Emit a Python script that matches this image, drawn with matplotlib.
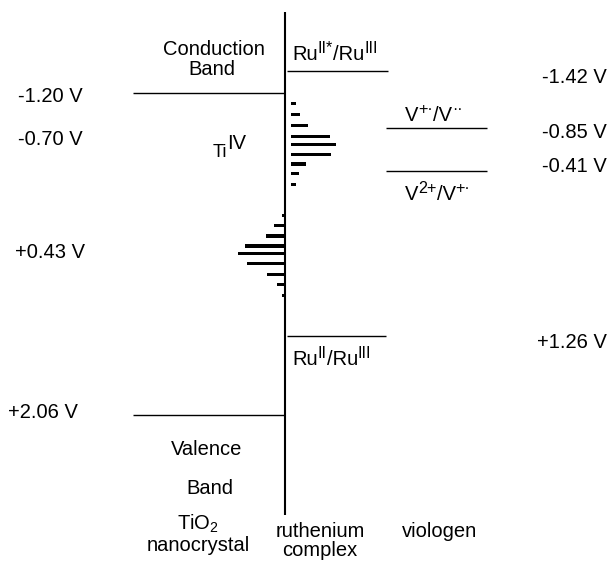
import matplotlib
matplotlib.use('Agg')
import matplotlib.pyplot as plt

plt.rcParams['font.family'] = ['Liberation Sans', 'DejaVu Sans']
plt.rcParams['mathtext.fontset'] = 'custom'
plt.rcParams['mathtext.rm'] = 'Liberation Sans'
plt.rcParams['mathtext.it'] = 'Liberation Sans:italic'
plt.rcParams['mathtext.bf'] = 'Liberation Sans:bold'

# ---- data (potentials in V) ----
tio2_levels = [-1.20, 2.06]
tio2_labels = ['-1.20 V', '+2.06 V']
ti_state_values = [-0.70, 0.43]
ti_state_labels = ['-0.70 V', '+0.43 V']
ru_levels = [-1.42, 1.26]
ru_labels = ['-1.42 V', '+1.26 V']
viologen_levels = [-0.85, -0.41]
viologen_labels = ['-0.85 V', '-0.41 V']

upper_dos_pot = [-1.09, -0.98, -0.87, -0.76, -0.68, -0.58, -0.48, -0.38, -0.27]
upper_dos = [5, 9, 17, 39, 45, 40, 15, 8, 5]
lower_dos_pot = [0.04, 0.14, 0.25, 0.35, 0.43, 0.53, 0.64, 0.74, 0.85]
lower_dos = [3, 11, 19, 40, 47, 38, 18, 8, 3]

columns = ['TiO$_2$', 'ruthenium', 'viologen']
columns2 = ['nanocrystal', 'complex', '']

# ---- layout helpers ----
Y0, K = 211.4, 98.7


def V(ypx):
    return (ypx - Y0) / K


fig = plt.figure(figsize=(6.09, 5.72), dpi=100)
ax = fig.add_axes([0, 0, 1, 1])
ax.set_xlim(0, 609)
ax.set_ylim(V(572), V(0))
ax.axis('off')
renderer = fig.canvas.get_renderer()

FS = 14.5
XA = 285  # main axis position


def rich(x, ybase, pieces):
    """Draw consecutive text pieces: (text, size scale, rise in px)."""
    for txt, sc, rise in pieces:
        t = ax.text(x, V(ybase - rise), txt, fontsize=FS * sc,
                    va='baseline', ha='left')
        bb = t.get_window_extent(renderer)
        x += bb.width


# vertical axis
ax.vlines(XA, V(12), V(515), color='black', lw=1.5)

# TiO2 levels
ax.hlines(tio2_levels, 133, XA, color='black', lw=1.0)
# Ru levels
ax.hlines(ru_levels[0], XA + 2, 388, color='black', lw=1.0)
ax.hlines(ru_levels[1], XA + 2, 386, color='black', lw=1.0)
# viologen levels
ax.hlines(viologen_levels, 386, 487, color='black', lw=1.0)

# trap-state distributions
bh = 3.2 / K
ax.barh(upper_dos_pot, upper_dos, left=XA + 6, height=bh, color='black')
ax.barh(lower_dos_pot, [d + 1 for d in lower_dos],
        left=[XA - d for d in lower_dos], height=bh, color='black')

# left labels
ax.text(18, V(102), tio2_labels[0], fontsize=FS, va='baseline', ha='left')
ax.text(18, V(145), ti_state_labels[0], fontsize=FS, va='baseline', ha='left')
ax.text(15, V(258), ti_state_labels[1], fontsize=FS, va='baseline', ha='left')
ax.text(8, V(418), tio2_labels[1], fontsize=FS, va='baseline', ha='left')

ax.text(214, V(55), 'Conduction', fontsize=FS, va='baseline', ha='center')
ax.text(212, V(75), 'Band', fontsize=FS, va='baseline', ha='center')
ax.text(207, V(455), 'Valence', fontsize=FS, va='baseline', ha='center')
ax.text(210, V(494), 'Band', fontsize=FS, va='baseline', ha='center')
rich(213, 157, [('Ti', 0.9, 0), ('IV', 1.0, 8)])

# Ru labels
rich(292, 60, [('Ru', 1, 0), ('II*', 0.8, 7), ('/Ru', 1, 0), ('III', 0.8, 7)])
rich(292, 365, [('Ru', 1, 0), ('II', 0.8, 7), ('/Ru', 1, 0), ('III', 0.8, 7)])

# viologen labels
rich(405, 121, [('V', 1, 0), ('+\u00b7', 0.8, 7), ('/V', 1, 0), ('\u00b7\u00b7', 0.8, 7)])
rich(405, 200, [('V', 1, 0), ('2+', 0.8, 7), ('/V', 1, 0), ('+\u00b7', 0.8, 7)])

# right labels
ax.text(607, V(83), ru_labels[0], fontsize=FS, va='baseline', ha='right')
ax.text(607, V(138), viologen_labels[0], fontsize=FS, va='baseline', ha='right')
ax.text(607, V(172), viologen_labels[1], fontsize=FS, va='baseline', ha='right')
ax.text(607, V(348), ru_labels[1], fontsize=FS, va='baseline', ha='right')

# column labels
col_x = [198, 320, 440]
ax.text(col_x[0], V(530), columns[0], fontsize=FS, va='baseline', ha='center')
ax.text(col_x[0], V(551), columns2[0], fontsize=FS, va='baseline', ha='center')
ax.text(col_x[1], V(537), columns[1], fontsize=FS, va='baseline', ha='center')
ax.text(col_x[1], V(556), columns2[1], fontsize=FS, va='baseline', ha='center')
ax.text(col_x[2], V(537), columns[2], fontsize=FS, va='baseline', ha='center')

fig.savefig('out.png', dpi=100)
